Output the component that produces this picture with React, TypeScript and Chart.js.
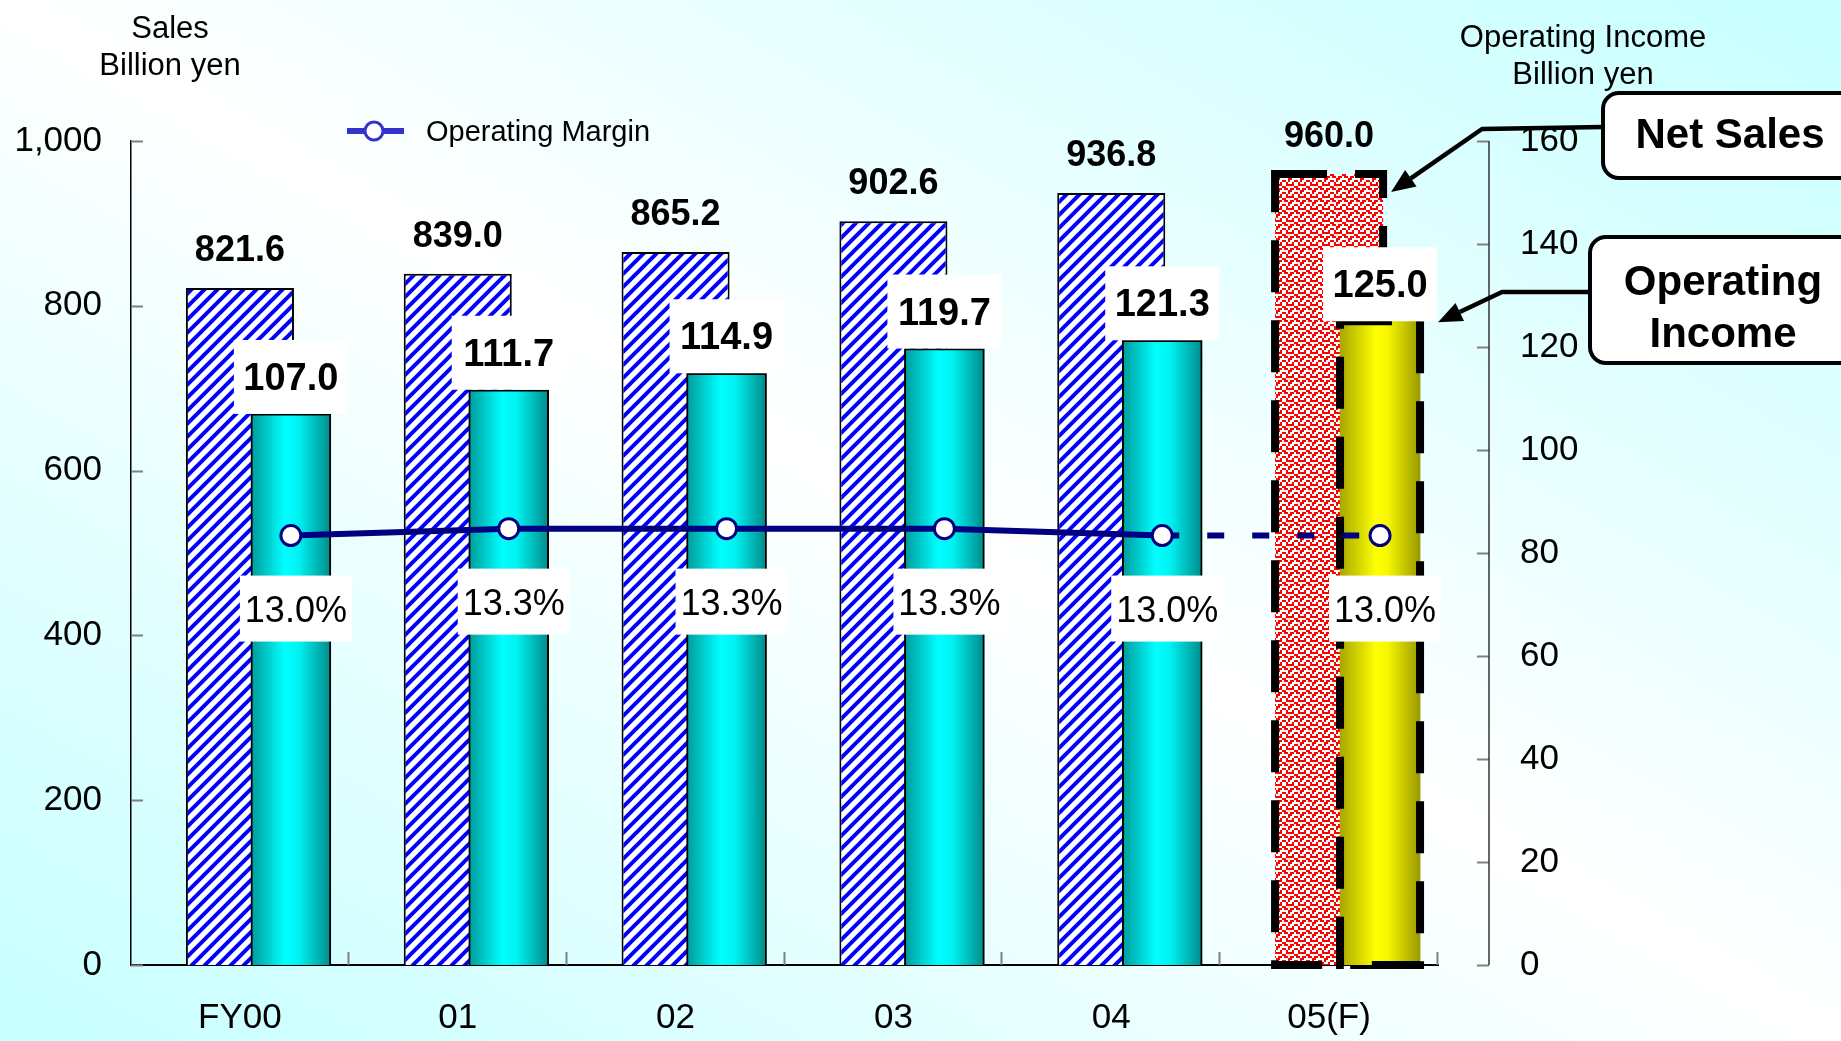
import React, { useEffect, useRef } from 'react';
import { Chart, registerables } from 'chart.js';

Chart.register(...registerables);

// ---------- data ----------
const categories = ['FY00', '01', '02', '03', '04', '05(F)'];
const netSales = [821.6, 839.0, 865.2, 902.6, 936.8, 960.0];
const operatingIncome = [107.0, 111.7, 114.9, 119.7, 121.3, 125.0];
const operatingMargin = [13.0, 13.3, 13.3, 13.3, 13.0, 13.0];
const leftTitle = ['Sales', 'Billion yen'];
const rightTitle = ['Operating Income', 'Billion yen'];
const legendLabel = 'Operating Margin';
const calloutSales = ['Net Sales'];
const calloutIncome = ['Operating', 'Income'];

// ---------- layout / style constants ----------
const W = 1841;
const H = 1041;
const FONT = "'Liberation Sans', Arial, Helvetica, sans-serif";
const NAVY = '#000080';
const LEGEND_BLUE = '#3333cc';
const LAST = categories.length - 1;
const OI_SHIFT = 0.234; // OI bars sit right of category centre
const OI_BAR_W = 80;
const MARGIN_DS = 0;
const OI_DS = 1;
const SALES_DS = 2;

Chart.defaults.font.family = FONT;
Chart.defaults.color = '#000';

function makeStripe(ctx: CanvasRenderingContext2D) {
  const P = 13;
  const c = document.createElement('canvas');
  c.width = P;
  c.height = P;
  const g = c.getContext('2d')!;
  g.fillStyle = '#ffffff';
  g.fillRect(0, 0, P, P);
  g.strokeStyle = '#0000ff';
  g.lineWidth = 4;
  g.beginPath();
  g.moveTo(-3, P + 3);
  g.lineTo(P + 3, -3);
  g.moveTo(-4, 4);
  g.lineTo(4, -4);
  g.moveTo(P - 4, P + 4);
  g.lineTo(P + 4, P - 4);
  g.stroke();
  return ctx.createPattern(c, 'repeat')!;
}

function makeWeave(ctx: CanvasRenderingContext2D) {
  const N = 6;
  const cell = 2;
  const c = document.createElement('canvas');
  c.width = N * cell;
  c.height = N * cell;
  const g = c.getContext('2d')!;
  g.fillStyle = '#ffffff';
  g.fillRect(0, 0, c.width, c.height);
  g.fillStyle = '#ff0000';
  const zig = [0, 1, 2, 2, 1, 0];
  const on = new Set<string>();
  for (let x = 0; x < N; x++) {
    for (const off of [0, 3]) {
      on.add(`${x},${(zig[x] + off) % N}`);
    }
  }
  for (let x = 0; x < N; x++) {
    for (let y = 0; y < N; y++) {
      if (!on.has(`${x},${y}`) && (x * 2 + y) % 6 === 4) on.add(`${x},${y}`);
    }
  }
  on.forEach((k) => {
    const [x, y] = k.split(',').map(Number);
    g.fillRect(x * cell, y * cell, cell, cell);
  });
  return ctx.createPattern(c, 'repeat')!;
}

function dashedRect(ctx: CanvasRenderingContext2D, el: any) {
  const l = el.x - el.width / 2;
  const r = el.x + el.width / 2;
  ctx.save();
  ctx.setLineDash([52, 28]);
  ctx.lineWidth = 8;
  ctx.strokeStyle = '#000';
  ctx.beginPath();
  ctx.moveTo(l, el.y);
  ctx.lineTo(r, el.y);
  ctx.lineTo(r, el.base);
  ctx.lineTo(l, el.base);
  ctx.closePath();
  ctx.stroke();
  ctx.restore();
}

function arrowLine(ctx: CanvasRenderingContext2D, pts: number[][]) {
  const [ex, ey] = pts[pts.length - 1];
  const [px, py] = pts[pts.length - 2];
  const ang = Math.atan2(ey - py, ex - px);
  const hl = 24;
  const hw = 10;
  const bx = ex - hl * Math.cos(ang);
  const by = ey - hl * Math.sin(ang);
  ctx.save();
  ctx.strokeStyle = '#000';
  ctx.fillStyle = '#000';
  ctx.lineWidth = 4.5;
  ctx.lineJoin = 'round';
  ctx.beginPath();
  ctx.moveTo(pts[0][0], pts[0][1]);
  for (let i = 1; i < pts.length - 1; i++) ctx.lineTo(pts[i][0], pts[i][1]);
  ctx.lineTo(bx, by);
  ctx.stroke();
  ctx.beginPath();
  ctx.moveTo(ex, ey);
  ctx.lineTo(bx + hw * Math.sin(ang), by - hw * Math.cos(ang));
  ctx.lineTo(bx - hw * Math.sin(ang), by + hw * Math.cos(ang));
  ctx.closePath();
  ctx.fill();
  ctx.restore();
}

function calloutBox(ctx: CanvasRenderingContext2D, x: number, y: number, w: number, h: number) {
  ctx.save();
  ctx.fillStyle = '#ffffff';
  ctx.strokeStyle = '#000';
  ctx.lineWidth = 4;
  ctx.beginPath();
  (ctx as any).roundRect(x, y, w, h, 16);
  ctx.fill();
  ctx.stroke();
  ctx.restore();
}

const overlayPlugin = {
  id: 'overlay',
  afterDatasetDraw(chart: any, args: any) {
    if (args.index === SALES_DS || args.index === OI_DS) {
      const el = args.meta.data[LAST];
      if (el) dashedRect(chart.ctx, el);
    }
  },
  afterDatasetsDraw(chart: any) {
    const ctx: CanvasRenderingContext2D = chart.ctx;
    ctx.save();
    ctx.textAlign = 'center';
    ctx.textBaseline = 'alphabetic';

    // net sales labels
    const sm = chart.getDatasetMeta(SALES_DS);
    ctx.font = `bold 36px ${FONT}`;
    ctx.fillStyle = '#000';
    sm.data.forEach((el: any, i: number) => {
      ctx.fillText(netSales[i].toFixed(1), el.x, el.y - 27);
    });

    // operating income labels with white boxes
    const om = chart.getDatasetMeta(OI_DS);
    om.data.forEach((el: any, i: number) => {
      const cy = el.y - 37;
      ctx.fillStyle = '#ffffff';
      ctx.fillRect(el.x - 57, cy - 37, 114, 74);
      ctx.fillStyle = '#000';
      ctx.font = `bold 38px ${FONT}`;
      ctx.fillText(operatingIncome[i].toFixed(1), el.x, cy + 13);
    });

    // margin labels
    const mm = chart.getDatasetMeta(MARGIN_DS);
    mm.data.forEach((pt: any, i: number) => {
      const cx = pt.x + 5;
      const cy = pt.y + 73;
      ctx.fillStyle = '#ffffff';
      ctx.fillRect(cx - 56, cy - 33, 112, 66);
      ctx.fillStyle = '#000';
      ctx.font = `36px ${FONT}`;
      ctx.fillText(`${operatingMargin[i].toFixed(1)}%`, cx, cy + 13);
    });
    ctx.restore();
  },
  afterDraw(chart: any) {
    const ctx: CanvasRenderingContext2D = chart.ctx;
    const { left, right, bottom } = chart.chartArea;
    const y = chart.scales.y;
    const yR = chart.scales.yR;
    const x = chart.scales.x;
    ctx.save();

    // inward ticks: left axis
    ctx.strokeStyle = '#808080';
    ctx.lineWidth = 2;
    ctx.beginPath();
    y.ticks.forEach((t: any) => {
      const py = Math.round(y.getPixelForValue(t.value)) + 0.5;
      ctx.moveTo(left, py);
      ctx.lineTo(left + 12, py);
    });
    // right axis ticks
    const ax = right + 51;
    yR.ticks.forEach((t: any) => {
      const py = Math.round(yR.getPixelForValue(t.value)) + 0.5;
      ctx.moveTo(ax - 12, py);
      ctx.lineTo(ax, py);
    });
    // category boundary ticks
    const bounds: number[] = [];
    for (let i = 1; i < categories.length; i++) {
      bounds.push((x.getPixelForValue(i - 1) + x.getPixelForValue(i)) / 2);
    }
    bounds.push(right);
    bounds.forEach((bx) => {
      const px = Math.round(bx) - 0.5;
      ctx.moveTo(px, bottom);
      ctx.lineTo(px, bottom - 13);
    });
    ctx.stroke();

    // right axis line
    ctx.strokeStyle = '#333';
    ctx.lineWidth = 1.5;
    ctx.beginPath();
    ctx.moveTo(ax, yR.getPixelForValue(yR.min));
    ctx.lineTo(ax, yR.getPixelForValue(yR.max));
    ctx.stroke();

    // axis titles
    ctx.fillStyle = '#000';
    ctx.textAlign = 'center';
    ctx.textBaseline = 'alphabetic';
    ctx.font = `31px ${FONT}`;
    ctx.fillText(leftTitle[0], 170, 38);
    ctx.fillText(leftTitle[1], 170, 75);
    ctx.fillText(rightTitle[0], 1583, 47);
    ctx.fillText(rightTitle[1], 1583, 84);

    // legend
    ctx.strokeStyle = LEGEND_BLUE;
    ctx.lineWidth = 6;
    ctx.beginPath();
    ctx.moveTo(347, 131);
    ctx.lineTo(404, 131);
    ctx.stroke();
    ctx.beginPath();
    ctx.arc(374, 131, 9, 0, Math.PI * 2);
    ctx.fillStyle = '#fff';
    ctx.fill();
    ctx.lineWidth = 3;
    ctx.stroke();
    ctx.fillStyle = '#000';
    ctx.textAlign = 'left';
    ctx.font = `29px ${FONT}`;
    ctx.fillText(legendLabel, 426, 141);

    // callouts
    const sEl = chart.getDatasetMeta(SALES_DS).data[LAST];
    const oEl = chart.getDatasetMeta(OI_DS).data[LAST];
    calloutBox(ctx, 1603, 93, 280, 85);
    calloutBox(ctx, 1590, 237, 290, 126);
    ctx.fillStyle = '#000';
    ctx.textAlign = 'center';
    ctx.font = `bold 42px ${FONT}`;
    ctx.fillText(calloutSales[0], 1730, 148);
    ctx.fillText(calloutIncome[0], 1723, 295);
    ctx.fillText(calloutIncome[1], 1723, 347);
    if (sEl) {
      arrowLine(ctx, [
        [1603, 127],
        [1482, 129],
        [sEl.x + sEl.width / 2 + 8, sEl.y + 18],
      ]);
    }
    if (oEl) {
      arrowLine(ctx, [
        [1590, 292],
        [1502, 292],
        [oEl.x + oEl.width / 2 + 18, oEl.y + 1],
      ]);
    }
    ctx.restore();
  },
};

function gradientFill(chart: any, cx: number, half: number, stops: [number, string][]) {
  const g = chart.ctx.createLinearGradient(cx - half, 0, cx + half, 0);
  stops.forEach(([o, c]) => g.addColorStop(o, c));
  return g;
}

const cyanStops: [number, string][] = [
  [0, '#009a9a'],
  [0.42, '#00ffff'],
  [0.6, '#00f2f2'],
  [1, '#008a8a'],
];
const yellowStops: [number, string][] = [
  [0, '#a8a800'],
  [0.45, '#ffff00'],
  [0.6, '#f6f600'],
  [1, '#999900'],
];

const noVerticalPadding = (s: any) => {
  s.paddingTop = 0;
  s.paddingBottom = 0;
};

export default function App() {
  const ref = useRef<HTMLCanvasElement>(null);

  useEffect(() => {
    const canvas = ref.current;
    if (!canvas) return;
    const ctx = canvas.getContext('2d')!;
    const stripe = makeStripe(ctx);
    const weave = makeWeave(ctx);

    const salesFill = netSales.map((_, i) => (i === LAST ? weave : stripe));
    const salesBorderW = netSales.map((_, i) => (i === LAST ? 0 : 2));

    const chart = new Chart(canvas, {
      type: 'bar',
      data: {
        labels: categories,
        datasets: [
          {
            type: 'line',
            label: legendLabel,
            data: operatingMargin.map((v, i) => ({ x: i, y: v })),
            xAxisID: 'x2',
            yAxisID: 'yM',
            order: 0,
            borderColor: NAVY,
            borderWidth: 6,
            pointRadius: 10,
            pointBorderWidth: 3,
            pointBackgroundColor: '#ffffff',
            pointBorderColor: NAVY,
            tension: 0,
            fill: false,
            segment: {
              borderDash: (s: any) => (s.p1DataIndex === LAST ? [17, 28] : undefined),
            },
          } as any,
          {
            type: 'bar',
            label: 'Operating Income',
            data: operatingIncome.map((v, i) => ({ x: i, y: v })),
            xAxisID: 'x2',
            yAxisID: 'yR',
            order: 1,
            grouped: false,
            barThickness: OI_BAR_W,
            borderColor: '#000',
            borderWidth: (c: any) => (c.dataIndex === LAST ? 0 : 2),
            backgroundColor: (c: any) => {
              const forecast = c.dataIndex === LAST;
              const sc = c.chart.scales && c.chart.scales.x2;
              if (!sc || c.type !== 'data') return forecast ? '#ffff00' : '#00ffff';
              const cx = sc.getPixelForValue(c.dataIndex);
              if (!isFinite(cx)) return forecast ? '#ffff00' : '#00ffff';
              return gradientFill(c.chart, cx, OI_BAR_W / 2, forecast ? yellowStops : cyanStops);
            },
          } as any,
          {
            type: 'bar',
            label: 'Net Sales',
            data: netSales,
            xAxisID: 'x',
            yAxisID: 'y',
            order: 2,
            grouped: false,
            categoryPercentage: 1,
            barPercentage: 0.496,
            backgroundColor: salesFill,
            borderColor: '#000',
            borderWidth: salesBorderW,
          } as any,
        ],
      },
      options: {
        responsive: false,
        animation: false,
        devicePixelRatio: 1,
        events: [],
        layout: { padding: { top: 141, left: 0, right: 0, bottom: 0 } },
        plugins: {
          legend: { display: false },
          tooltip: { enabled: false },
        },
        scales: {
          x: {
            type: 'category',
            position: 'bottom',
            offset: true,
            grid: { display: false, drawTicks: false },
            border: { display: true, color: '#000', width: 2 },
            ticks: { font: { size: 35 }, color: '#000', padding: 32, maxRotation: 0, autoSkip: false },
            afterFit: (s: any) => {
              s.height = 76;
            },
          },
          x2: {
            type: 'linear',
            display: false,
            offset: false,
            min: -0.5 - OI_SHIFT,
            max: categories.length - 0.5 - OI_SHIFT,
          },
          y: {
            type: 'linear',
            position: 'left',
            min: 0,
            max: 1000,
            grid: { display: false, drawTicks: false },
            border: { display: true, color: '#000', width: 1.5 },
            ticks: {
              stepSize: 200,
              font: { size: 35 },
              color: '#000',
              padding: 29,
              callback: (v: any) => Number(v).toLocaleString('en-US'),
            },
            afterFit: (s: any) => {
              s.width = 131;
              noVerticalPadding(s);
            },
          },
          yR: {
            type: 'linear',
            position: 'right',
            min: 0,
            max: 160,
            grid: { display: false, drawTicks: false, drawOnChartArea: false },
            border: { display: false },
            ticks: { stepSize: 20, font: { size: 35 }, color: '#000', padding: 82 },
            afterFit: (s: any) => {
              s.width = 403;
              noVerticalPadding(s);
            },
          },
          yM: {
            type: 'linear',
            display: false,
            min: -5.5,
            max: 30,
          },
        },
      } as any,
      plugins: [overlayPlugin],
    });

    return () => chart.destroy();
  }, []);

  return (
    <div
      style={{
        position: 'fixed',
        left: 0,
        top: 0,
        width: W,
        height: H,
        overflow: 'hidden',
        background: 'linear-gradient(to bottom left, #c6ffff 0%, #ffffff 50%, #c6ffff 100%)',
      }}
    >
      <canvas ref={ref} width={W} height={H} style={{ display: 'block', width: W, height: H }} />
    </div>
  );
}
